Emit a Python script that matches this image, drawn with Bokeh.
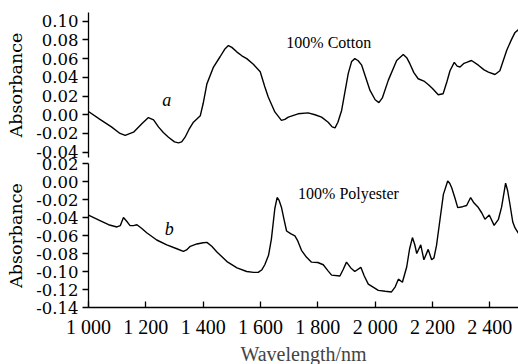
from bokeh.plotting import figure
from bokeh.layouts import column
from bokeh.models import Range1d, FixedTicker, PrintfTickFormatter, Label, Title
from bokeh.embed import file_html
from bokeh.resources import INLINE

# ---- data ----
cotton_wl = [1000, 1040, 1080, 1110, 1128, 1157, 1186, 1209, 1227, 1244, 1261, 1279, 1300,
             1314, 1325, 1337, 1350, 1366, 1390, 1400, 1413, 1436, 1459, 1475, 1488, 1500,
             1518, 1535, 1552, 1575, 1599, 1615, 1627, 1650, 1673, 1685, 1697, 1731, 1766,
             1790, 1813, 1836, 1850, 1860, 1870, 1883, 1906, 1918, 1929, 1940, 1953, 1982,
             2000, 2013, 2025, 2046, 2075, 2098, 2110, 2121, 2135, 2150, 2170, 2185, 2200,
             2220, 2237, 2250, 2261, 2276, 2286, 2296, 2310, 2319, 2336, 2360, 2380, 2395,
             2418, 2435, 2459, 2475, 2488, 2500]
cotton_abs = [0.0035, -0.005, -0.013, -0.020, -0.022, -0.0186, -0.0096, -0.003, -0.0054, -0.013,
              -0.019, -0.024, -0.029, -0.030, -0.029, -0.024, -0.016, -0.008, -0.001, 0.012,
              0.033, 0.051, 0.062, 0.070, 0.074, 0.072, 0.067, 0.063, 0.060, 0.054, 0.046,
              0.030, 0.019, 0.003, -0.006, -0.005, -0.0026, 0.001, 0.002, 0.000, -0.0026,
              -0.008, -0.013, -0.014, -0.008, 0.0046, 0.044, 0.057, 0.060, 0.058, 0.053,
              0.026, 0.016, 0.013, 0.018, 0.037, 0.058, 0.0645, 0.061, 0.0546, 0.045,
              0.0385, 0.036, 0.0324, 0.028, 0.0214, 0.0225, 0.035, 0.047, 0.056, 0.052,
              0.051, 0.055, 0.056, 0.058, 0.053, 0.048, 0.0456, 0.043, 0.047, 0.069, 0.080,
              0.088, 0.091]

poly_wl = [1000, 1040, 1070, 1099, 1111, 1122, 1134, 1145, 1157, 1169, 1185, 1203, 1238, 1273,
           1308, 1331, 1342, 1355, 1378, 1400, 1413, 1430, 1448, 1483, 1518, 1552, 1576, 1592,
           1605, 1615, 1628, 1638, 1650, 1658, 1665, 1673, 1682, 1691, 1705, 1720, 1730, 1743,
           1760, 1778, 1800, 1819, 1835, 1848, 1877, 1888, 1900, 1915, 1929, 1950, 1962, 1976,
           2011, 2035, 2057, 2070, 2081, 2095, 2110, 2120, 2130, 2138, 2145, 2159, 2170, 2185,
           2197, 2205, 2214, 2225, 2238, 2253, 2260, 2267, 2278, 2288, 2305, 2319, 2333, 2345,
           2360, 2372, 2383, 2398, 2415, 2430, 2441, 2455, 2462, 2470, 2480, 2488, 2500]
poly_abs = [-0.0373, -0.0434, -0.048, -0.0505, -0.049, -0.040, -0.0445, -0.049, -0.049, -0.048,
            -0.052, -0.057, -0.065, -0.0705, -0.0747, -0.0776, -0.076, -0.072, -0.0694, -0.068,
            -0.0676, -0.072, -0.0783, -0.089, -0.096, -0.100, -0.101, -0.101, -0.098, -0.0925,
            -0.082, -0.064, -0.030, -0.0178, -0.021, -0.0285, -0.042, -0.055, -0.058, -0.0605,
            -0.066, -0.0765, -0.084, -0.0896, -0.090, -0.0925, -0.099, -0.104, -0.105, -0.098,
            -0.0896, -0.096, -0.100, -0.0954, -0.105, -0.114, -0.121, -0.122, -0.1227, -0.117,
            -0.1085, -0.112, -0.095, -0.075, -0.0623, -0.070, -0.080, -0.0704, -0.087, -0.0754,
            -0.087, -0.085, -0.071, -0.045, -0.0143, 0.0006, -0.002, -0.007, -0.018, -0.029,
            -0.028, -0.0267, -0.0178, -0.024, -0.029, -0.035, -0.042, -0.0373, -0.0488, -0.042,
            -0.0285, -0.0018, -0.010, -0.025, -0.045, -0.0516, -0.0576]

x_ticks = [1000, 1200, 1400, 1600, 1800, 2000, 2200, 2400]
x_tick_labels = ["1 000", "1 200", "1 400", "1 600", "1 800", "2 000", "2 200", "2 400"]
top_ticks = [-0.04, -0.02, 0.0, 0.02, 0.04, 0.06, 0.08, 0.10]
bottom_ticks = [-0.14, -0.12, -0.10, -0.08, -0.06, -0.04, -0.02, 0.0, 0.02]

FONT = "Times New Roman"
YFONT = "DejaVu Serif"
W = 518


def style_yaxis(p, ticks):
    ax = p.yaxis[0]
    ax.ticker = FixedTicker(ticks=ticks)
    ax.formatter = PrintfTickFormatter(format="%.2f")
    ax.minor_tick_line_color = None
    ax.major_tick_in = 0
    ax.major_tick_out = 6
    ax.major_label_standoff = 4
    ax.major_label_text_font = YFONT
    ax.major_label_text_font_size = "16.5px"
    ax.major_label_text_color = "black"
    ax.axis_label = "Absorbance"
    ax.axis_label_text_font = YFONT
    ax.axis_label_text_font_size = "17.5px"
    ax.axis_label_text_font_style = "normal"
    ax.axis_label_text_color = "black"
    ax.axis_label_standoff = 7
    ax.axis_line_color = "black"
    ax.axis_line_width = 1.3
    ax.major_tick_line_width = 1.3


# ---- top panel ----
top = figure(width=W, height=167, x_range=Range1d(1000, 2500),
             y_range=Range1d(-0.0457, 0.1093), x_axis_location=None,
             output_backend="svg", toolbar_location=None,
             min_border_left=88, min_border_right=0, min_border_top=12, min_border_bottom=10)
top.outline_line_color = None
top.xgrid.visible = False
top.ygrid.visible = False
style_yaxis(top, top_ticks)
top.line(cotton_wl, cotton_abs, line_color="black", line_width=1.4)
top.add_layout(Label(x=1690, y=0.0777, text="100% Cotton", text_font=FONT,
                     text_font_size="16px", text_baseline="middle", text_color="black"))
top.add_layout(Label(x=1273, y=0.0153, text="a", text_font=FONT, text_font_style="italic",
                     text_font_size="18px", text_align="center", text_baseline="middle",
                     text_color="black"))

# ---- bottom panel ----
bot = figure(width=W, height=217, x_range=Range1d(1000, 2500),
             y_range=Range1d(-0.14, 0.02),
             output_backend="svg", toolbar_location=None,
             min_border_left=88, min_border_right=0, min_border_top=16, min_border_bottom=10,
             margin=(-20, 0, 0, 0))
bot.outline_line_color = None
bot.border_fill_color = None
bot.background_fill_color = None
bot.xgrid.visible = False
bot.ygrid.visible = False
style_yaxis(bot, bottom_ticks)
xa = bot.xaxis[0]
xa.ticker = FixedTicker(ticks=x_ticks)
xa.major_label_overrides = {t: l for t, l in zip(x_ticks, x_tick_labels)}
xa.minor_tick_line_color = None
xa.major_tick_in = 6
xa.major_tick_out = 0
xa.major_label_standoff = 8
xa.major_label_text_font = FONT
xa.major_label_text_font_size = "20px"
xa.major_label_text_color = "black"
xa.axis_line_width = 1.3
xa.major_tick_line_width = 1.3
bot.add_layout(Title(text="Wavelength/nm", align="center", offset=12,
                     text_font=FONT, text_font_size="20px",
                     text_font_style="normal", standoff=0), "below")
bot.line(poly_wl, poly_abs, line_color="black", line_width=1.4)
bot.add_layout(Label(x=1731, y=-0.0135, text="100% Polyester", text_font=FONT,
                     text_font_size="16px", text_baseline="middle", text_color="black"))
bot.add_layout(Label(x=1282, y=-0.0533, text="b", text_font=FONT, text_font_style="italic",
                     text_font_size="18px", text_align="center", text_baseline="middle",
                     text_color="black"))

layout = column(top, bot, spacing=0)
open("out.html", "w").write(file_html(layout, INLINE))
